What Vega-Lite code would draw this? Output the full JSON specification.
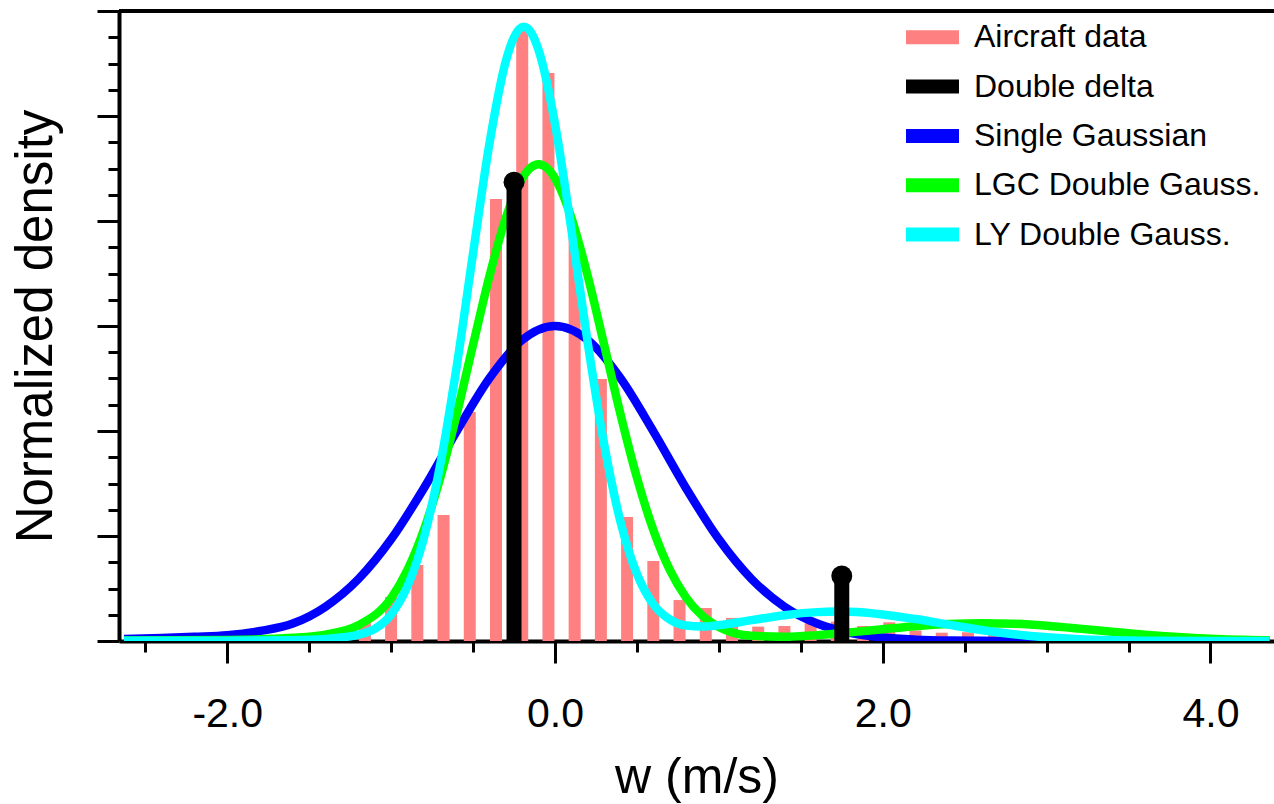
{
  "$schema": "https://vega.github.io/schema/vega-lite/v6.json",
  "autosize": {"type": "none"},
  "padding": {"left": 119, "top": 11, "right": 0, "bottom": 163},
  "width": 1155,
  "height": 630,
  "background": "white",
  "config": {
    "view": {"stroke": null},
    "font": "Liberation Sans",
    "axis": {"grid": false, "domainColor": "black", "tickColor": "black", "labelColor": "black", "titleColor": "black", "titleFontWeight": "normal", "labelFont": "Liberation Sans", "titleFont": "Liberation Sans"}
  },
  "datasets": {
    "histogram": [
      {"w": -1.48, "density": 0.055, "series": "Aircraft data"},
      {"w": -1.32, "density": 0.114, "series": "Aircraft data"},
      {"w": -1.16, "density": 0.19, "series": "Aircraft data"},
      {"w": -1.0, "density": 0.42, "series": "Aircraft data"},
      {"w": -0.84, "density": 0.724, "series": "Aircraft data"},
      {"w": -0.68, "density": 1.2, "series": "Aircraft data"},
      {"w": -0.52, "density": 2.18, "series": "Aircraft data"},
      {"w": -0.36, "density": 4.21, "series": "Aircraft data"},
      {"w": -0.2, "density": 5.82, "series": "Aircraft data"},
      {"w": -0.04, "density": 5.41, "series": "Aircraft data"},
      {"w": 0.12, "density": 3.85, "series": "Aircraft data"},
      {"w": 0.28, "density": 2.495, "series": "Aircraft data"},
      {"w": 0.44, "density": 1.18, "series": "Aircraft data"},
      {"w": 0.6, "density": 0.762, "series": "Aircraft data"},
      {"w": 0.76, "density": 0.39, "series": "Aircraft data"},
      {"w": 0.92, "density": 0.314, "series": "Aircraft data"},
      {"w": 1.08, "density": 0.22, "series": "Aircraft data"},
      {"w": 1.24, "density": 0.137, "series": "Aircraft data"},
      {"w": 1.4, "density": 0.143, "series": "Aircraft data"},
      {"w": 1.56, "density": 0.168, "series": "Aircraft data"},
      {"w": 1.72, "density": 0.184, "series": "Aircraft data"},
      {"w": 1.88, "density": 0.143, "series": "Aircraft data"},
      {"w": 2.04, "density": 0.178, "series": "Aircraft data"},
      {"w": 2.2, "density": 0.1, "series": "Aircraft data"},
      {"w": 2.36, "density": 0.079, "series": "Aircraft data"},
      {"w": 2.52, "density": 0.083, "series": "Aircraft data"},
      {"w": 2.68, "density": 0.076, "series": "Aircraft data"},
      {"w": 2.84, "density": 0.04, "series": "Aircraft data"},
      {"w": 3.0, "density": 0.025, "series": "Aircraft data"}
    ],
    "delta": [
      {"w": -0.25, "density": 4.37, "series": "Double delta"},
      {"w": 1.75, "density": 0.62, "series": "Double delta"}
    ],
    "curves": [
      {"w": -2.63, "density": 0.02, "series": "Single Gaussian"},
      {"w": -2.4, "density": 0.028, "series": "Single Gaussian"},
      {"w": -2.2, "density": 0.04, "series": "Single Gaussian"},
      {"w": -2.0, "density": 0.055, "series": "Single Gaussian"},
      {"w": -1.8, "density": 0.095, "series": "Single Gaussian"},
      {"w": -1.6, "density": 0.166, "series": "Single Gaussian"},
      {"w": -1.4, "density": 0.327, "series": "Single Gaussian"},
      {"w": -1.2, "density": 0.589, "series": "Single Gaussian"},
      {"w": -1.0, "density": 0.968, "series": "Single Gaussian"},
      {"w": -0.8, "density": 1.455, "series": "Single Gaussian"},
      {"w": -0.6, "density": 1.997, "series": "Single Gaussian"},
      {"w": -0.4, "density": 2.503, "series": "Single Gaussian"},
      {"w": -0.2, "density": 2.867, "series": "Single Gaussian"},
      {"w": 0.0, "density": 3.0, "series": "Single Gaussian"},
      {"w": 0.2, "density": 2.867, "series": "Single Gaussian"},
      {"w": 0.4, "density": 2.503, "series": "Single Gaussian"},
      {"w": 0.6, "density": 1.997, "series": "Single Gaussian"},
      {"w": 0.8, "density": 1.455, "series": "Single Gaussian"},
      {"w": 1.0, "density": 0.968, "series": "Single Gaussian"},
      {"w": 1.2, "density": 0.589, "series": "Single Gaussian"},
      {"w": 1.4, "density": 0.327, "series": "Single Gaussian"},
      {"w": 1.6, "density": 0.166, "series": "Single Gaussian"},
      {"w": 1.8, "density": 0.077, "series": "Single Gaussian"},
      {"w": 2.0, "density": 0.033, "series": "Single Gaussian"},
      {"w": 2.2, "density": 0.013, "series": "Single Gaussian"},
      {"w": 2.4, "density": 0.0044, "series": "Single Gaussian"},
      {"w": 2.7, "density": 0.001, "series": "Single Gaussian"},
      {"w": 3.2, "density": 0.0, "series": "Single Gaussian"},
      {"w": 4.36, "density": 0.0, "series": "Single Gaussian"},

      {"w": -2.63, "density": 0.005, "series": "LGC Double Gauss."},
      {"w": -2.0, "density": 0.01, "series": "LGC Double Gauss."},
      {"w": -1.6, "density": 0.03, "series": "LGC Double Gauss."},
      {"w": -1.4, "density": 0.06, "series": "LGC Double Gauss."},
      {"w": -1.2, "density": 0.15, "series": "LGC Double Gauss."},
      {"w": -1.0, "density": 0.408, "series": "LGC Double Gauss."},
      {"w": -0.9, "density": 0.677, "series": "LGC Double Gauss."},
      {"w": -0.8, "density": 1.057, "series": "LGC Double Gauss."},
      {"w": -0.7, "density": 1.556, "series": "LGC Double Gauss."},
      {"w": -0.6, "density": 2.158, "series": "LGC Double Gauss."},
      {"w": -0.5, "density": 2.821, "series": "LGC Double Gauss."},
      {"w": -0.4, "density": 3.474, "series": "LGC Double Gauss."},
      {"w": -0.3, "density": 4.031, "series": "LGC Double Gauss."},
      {"w": -0.2, "density": 4.407, "series": "LGC Double Gauss."},
      {"w": -0.15, "density": 4.506, "series": "LGC Double Gauss."},
      {"w": -0.1, "density": 4.54, "series": "LGC Double Gauss."},
      {"w": -0.05, "density": 4.506, "series": "LGC Double Gauss."},
      {"w": 0.0, "density": 4.407, "series": "LGC Double Gauss."},
      {"w": 0.1, "density": 4.031, "series": "LGC Double Gauss."},
      {"w": 0.2, "density": 3.474, "series": "LGC Double Gauss."},
      {"w": 0.3, "density": 2.821, "series": "LGC Double Gauss."},
      {"w": 0.4, "density": 2.158, "series": "LGC Double Gauss."},
      {"w": 0.5, "density": 1.556, "series": "LGC Double Gauss."},
      {"w": 0.6, "density": 1.057, "series": "LGC Double Gauss."},
      {"w": 0.7, "density": 0.679, "series": "LGC Double Gauss."},
      {"w": 0.8, "density": 0.413, "series": "LGC Double Gauss."},
      {"w": 0.9, "density": 0.239, "series": "LGC Double Gauss."},
      {"w": 1.0, "density": 0.134, "series": "LGC Double Gauss."},
      {"w": 1.2, "density": 0.049, "series": "LGC Double Gauss."},
      {"w": 1.4, "density": 0.04, "series": "LGC Double Gauss."},
      {"w": 1.6, "density": 0.056, "series": "LGC Double Gauss."},
      {"w": 1.8, "density": 0.082, "series": "LGC Double Gauss."},
      {"w": 2.0, "density": 0.112, "series": "LGC Double Gauss."},
      {"w": 2.2, "density": 0.141, "series": "LGC Double Gauss."},
      {"w": 2.4, "density": 0.161, "series": "LGC Double Gauss."},
      {"w": 2.6, "density": 0.17, "series": "LGC Double Gauss."},
      {"w": 2.8, "density": 0.164, "series": "LGC Double Gauss."},
      {"w": 3.0, "density": 0.145, "series": "LGC Double Gauss."},
      {"w": 3.2, "density": 0.118, "series": "LGC Double Gauss."},
      {"w": 3.4, "density": 0.088, "series": "LGC Double Gauss."},
      {"w": 3.6, "density": 0.06, "series": "LGC Double Gauss."},
      {"w": 3.8, "density": 0.038, "series": "LGC Double Gauss."},
      {"w": 4.0, "density": 0.022, "series": "LGC Double Gauss."},
      {"w": 4.36, "density": 0.006, "series": "LGC Double Gauss."},

      {"w": -2.63, "density": 0.002, "series": "LY Double Gauss."},
      {"w": -2.0, "density": 0.003, "series": "LY Double Gauss."},
      {"w": -1.6, "density": 0.008, "series": "LY Double Gauss."},
      {"w": -1.4, "density": 0.02, "series": "LY Double Gauss."},
      {"w": -1.2, "density": 0.06, "series": "LY Double Gauss."},
      {"w": -1.1, "density": 0.115, "series": "LY Double Gauss."},
      {"w": -1.0, "density": 0.252, "series": "LY Double Gauss."},
      {"w": -0.9, "density": 0.522, "series": "LY Double Gauss."},
      {"w": -0.8, "density": 0.983, "series": "LY Double Gauss."},
      {"w": -0.7, "density": 1.682, "series": "LY Double Gauss."},
      {"w": -0.6, "density": 2.614, "series": "LY Double Gauss."},
      {"w": -0.5, "density": 3.692, "series": "LY Double Gauss."},
      {"w": -0.4, "density": 4.737, "series": "LY Double Gauss."},
      {"w": -0.3, "density": 5.522, "series": "LY Double Gauss."},
      {"w": -0.25, "density": 5.75, "series": "LY Double Gauss."},
      {"w": -0.19, "density": 5.85, "series": "LY Double Gauss."},
      {"w": -0.15, "density": 5.805, "series": "LY Double Gauss."},
      {"w": -0.1, "density": 5.628, "series": "LY Double Gauss."},
      {"w": 0.0, "density": 4.927, "series": "LY Double Gauss."},
      {"w": 0.1, "density": 3.919, "series": "LY Double Gauss."},
      {"w": 0.2, "density": 2.837, "series": "LY Double Gauss."},
      {"w": 0.3, "density": 1.873, "series": "LY Double Gauss."},
      {"w": 0.4, "density": 1.134, "series": "LY Double Gauss."},
      {"w": 0.5, "density": 0.639, "series": "LY Double Gauss."},
      {"w": 0.6, "density": 0.351, "series": "LY Double Gauss."},
      {"w": 0.7, "density": 0.206, "series": "LY Double Gauss."},
      {"w": 0.8, "density": 0.148, "series": "LY Double Gauss."},
      {"w": 0.9, "density": 0.139, "series": "LY Double Gauss."},
      {"w": 1.0, "density": 0.151, "series": "LY Double Gauss."},
      {"w": 1.2, "density": 0.199, "series": "LY Double Gauss."},
      {"w": 1.4, "density": 0.246, "series": "LY Double Gauss."},
      {"w": 1.6, "density": 0.275, "series": "LY Double Gauss."},
      {"w": 1.72, "density": 0.28, "series": "LY Double Gauss."},
      {"w": 1.8, "density": 0.278, "series": "LY Double Gauss."},
      {"w": 2.0, "density": 0.253, "series": "LY Double Gauss."},
      {"w": 2.2, "density": 0.209, "series": "LY Double Gauss."},
      {"w": 2.4, "density": 0.156, "series": "LY Double Gauss."},
      {"w": 2.6, "density": 0.105, "series": "LY Double Gauss."},
      {"w": 2.8, "density": 0.064, "series": "LY Double Gauss."},
      {"w": 3.0, "density": 0.035, "series": "LY Double Gauss."},
      {"w": 3.2, "density": 0.017, "series": "LY Double Gauss."},
      {"w": 3.4, "density": 0.008, "series": "LY Double Gauss."},
      {"w": 3.6, "density": 0.003, "series": "LY Double Gauss."},
      {"w": 4.0, "density": 0.0, "series": "LY Double Gauss."},
      {"w": 4.36, "density": 0.0, "series": "LY Double Gauss."}
    ]
  },
  "resolve": {"axis": {"x": "independent", "y": "independent"}},
  "layer": [
    {
      "data": {"name": "histogram"},
      "mark": {"type": "bar", "size": 12, "clip": true},
      "encoding": {
        "x": {
          "field": "w", "type": "quantitative",
          "scale": {"domain": [-2.63, 4.357], "nice": false, "zero": false},
          "axis": {
            "orient": "bottom", "title": "w (m/s)", "values": [-2, 0, 2, 4],
            "labelExpr": "(datum.value < 0 ? '-' : '') + format(abs(datum.value), '.1f')",
            "tickSize": 22, "tickWidth": 3, "domainWidth": 4,
            "labelFontSize": 41, "labelPadding": 31, "labelFlush": false, "labelOverlap": false,
            "titleFontSize": 50, "titlePadding": 18
          }
        },
        "y": {
          "field": "density", "type": "quantitative",
          "scale": {"domain": [0, 6], "nice": false},
          "axis": {
            "orient": "left", "title": "Normalized density", "values": [0, 1, 2, 3, 4, 5, 6],
            "labels": false, "tickSize": 22, "tickWidth": 3, "domainWidth": 4,
            "titleFontSize": 51, "titlePadding": 33
          }
        },
        "color": {
          "field": "series", "type": "nominal",
          "scale": {
            "domain": ["Aircraft data", "Double delta", "Single Gaussian", "LGC Double Gauss.", "LY Double Gauss."],
            "range": ["#ff8080", "#000000", "#0000ff", "#00ff00", "#00ffff"]
          },
          "legend": {
            "orient": "none", "legendX": 797.5, "legendY": 10.3, "title": null,
            "symbolType": "M-1.656,-0.4375H1.656V0.4375H-1.656Z", "symbolSize": 1024,
            "symbolStrokeWidth": 0, "symbolOpacity": 1,
            "labelFontSize": 32, "labelFont": "Liberation Sans", "labelColor": "black", "labelLimit": 500,
            "rowPadding": 17.3, "labelOffset": 25.5, "padding": 0, "offset": 0,
            "encode": {"symbols": {"update": {"fill": {"scale": "color", "field": "value"}, "stroke": {"value": "transparent"}, "opacity": {"value": 1}}}}
          }
        }
      }
    },
    {
      "data": {"name": "curves"},
      "transform": [{"filter": "datum.series === 'Single Gaussian'"}],
      "mark": {"type": "line", "strokeWidth": 8.5, "interpolate": "monotone", "clip": true},
      "encoding": {
        "x": {"field": "w", "type": "quantitative", "axis": {"orient": "bottom", "title": null, "values": [-2.5, -1.5, -1, -0.5, 0.5, 1, 1.5, 2.5, 3, 3.5], "labels": false, "domain": false, "tickSize": 11, "tickWidth": 3}},
        "y": {"field": "density", "type": "quantitative", "axis": {"orient": "left", "title": null, "values": [0.25, 0.5, 0.75, 1.25, 1.5, 1.75, 2.25, 2.5, 2.75, 3.25, 3.5, 3.75, 4.25, 4.5, 4.75, 5.25, 5.5, 5.75], "labels": false, "domain": false, "tickSize": 11, "tickWidth": 3}},
        "color": {"field": "series", "type": "nominal"}
      }
    },
    {
      "data": {"name": "curves"},
      "transform": [{"filter": "datum.series === 'LGC Double Gauss.'"}],
      "mark": {"type": "line", "strokeWidth": 8.5, "interpolate": "monotone", "clip": true},
      "encoding": {
        "x": {"field": "w", "type": "quantitative", "axis": null},
        "y": {"field": "density", "type": "quantitative", "axis": null},
        "color": {"field": "series", "type": "nominal"}
      }
    },
    {
      "data": {"name": "curves"},
      "transform": [{"filter": "datum.series === 'LY Double Gauss.'"}],
      "mark": {"type": "line", "strokeWidth": 8.5, "interpolate": "monotone", "clip": true},
      "encoding": {
        "x": {"field": "w", "type": "quantitative", "axis": null},
        "y": {"field": "density", "type": "quantitative", "axis": null},
        "color": {"field": "series", "type": "nominal"}
      }
    },
    {
      "data": {"values": [{}]},
      "mark": {"type": "rule", "color": "black", "strokeWidth": 4},
      "encoding": {"y": {"datum": 6, "axis": null}}
    },
    {
      "data": {"name": "delta"},
      "mark": {"type": "rule", "strokeWidth": 15, "strokeCap": "butt"},
      "encoding": {
        "x": {"field": "w", "type": "quantitative", "axis": null},
        "y": {"field": "density", "type": "quantitative", "axis": null},
        "y2": {"datum": 0},
        "color": {"field": "series", "type": "nominal"}
      }
    },
    {
      "data": {"name": "delta"},
      "mark": {"type": "circle", "size": 440, "opacity": 1},
      "encoding": {
        "x": {"field": "w", "type": "quantitative", "axis": null},
        "y": {"field": "density", "type": "quantitative", "axis": null},
        "color": {"field": "series", "type": "nominal"}
      }
    }
  ]
}
